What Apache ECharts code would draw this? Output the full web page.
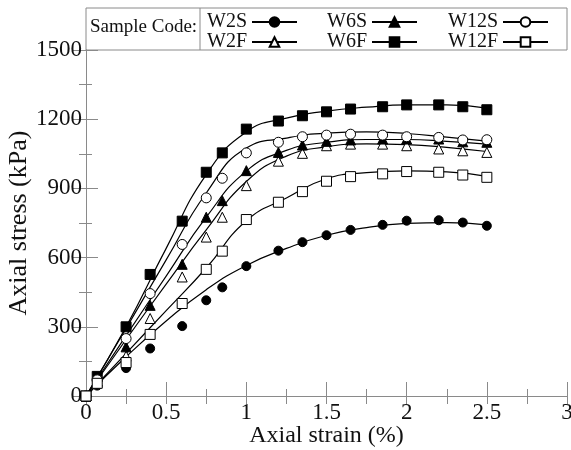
<!DOCTYPE html>
<html><head><meta charset="utf-8">
<script src="https://cdn.jsdelivr.net/npm/echarts@6/dist/echarts.min.js"></script>
<style>html,body{margin:0;padding:0;background:#fff}#c{width:571px;height:450px}</style>
</head><body><div id="c"></div>
<script>
// Measured points
const strainPts = [0, 0.07, 0.25, 0.4, 0.6, 0.75, 0.85, 1.0, 1.2, 1.35, 1.5, 1.65, 1.85, 2.0, 2.2, 2.35, 2.5];
const W2S  = [0, 45, 121, 206, 303, 415, 471, 563, 630, 667, 697, 720, 742, 760, 762, 752, 738];
const W2F  = [0, 60, 173, 336, 516, 689, 775, 912, 1018, 1052, 1085, 1092, 1092, 1085, 1071, 1063, 1056];
const W6S  = [0, 65, 213, 393, 571, 775, 847, 977, 1056, 1088, 1104, 1110, 1114, 1114, 1114, 1102, 1100];
const W6F  = [0, 85, 300, 527, 758, 970, 1054, 1157, 1192, 1215, 1232, 1244, 1254, 1262, 1262, 1254, 1241];
const W12S = [0, 70, 249, 444, 657, 859, 944, 1054, 1100, 1124, 1131, 1135, 1131, 1124, 1121, 1110, 1111];
const W12F = [0, 55, 145, 267, 401, 549, 628, 765, 840, 886, 931, 951, 963, 973, 970, 958, 948];
// Fitted curves
const strainFit = [0, 0.25, 0.5, 0.75, 1.0, 1.25, 1.5, 1.75, 2.0, 2.25, 2.5];
const fitW2S  = [0, 170, 325, 461, 566, 640, 697, 730, 748, 752, 742];
const fitW2F  = [0, 245, 485, 720, 930, 1040, 1080, 1093, 1090, 1078, 1060];
const fitW6S  = [0, 262, 520, 775, 975, 1065, 1100, 1112, 1112, 1104, 1092];
const fitW6F  = [0, 300, 640, 960, 1145, 1205, 1235, 1252, 1262, 1262, 1248];
const fitW12S = [0, 293, 590, 880, 1075, 1118, 1140, 1145, 1138, 1122, 1105];
const fitW12F = [0, 185, 370, 555, 760, 858, 942, 968, 976, 972, 952];
const xTicks = [0, 0.5, 1, 1.5, 2, 2.5, 3];
const yTicks = [0, 300, 600, 900, 1200, 1500];

const FONT = 'Liberation Serif';
const AX = '#8a8a8a';

const samples = [
  {name:'W2S',  pts:W2S,  fit:fitW2S,  symbol:'circle',   size:9,  fill:'#000'},
  {name:'W2F',  pts:W2F,  fit:fitW2F,  symbol:'triangle', size:10, fill:'#fff'},
  {name:'W6S',  pts:W6S,  fit:fitW6S,  symbol:'triangle', size:10, fill:'#000'},
  {name:'W6F',  pts:W6F,  fit:fitW6F,  symbol:'rect',     size:10, fill:'#000'},
  {name:'W12S', pts:W12S, fit:fitW12S, symbol:'circle',   size:10, fill:'#fff'},
  {name:'W12F', pts:W12F, fit:fitW12F, symbol:'rect',     size:10, fill:'#fff'}
];
const legendPos = {
  W2S:[207,12], W6S:[327,12], W12S:[448,12],
  W2F:[207,32], W6F:[327,32], W12F:[448,32]
};

const series = [];
samples.forEach(s => {
  series.push({
    name: s.name, type:'line', smooth:0.5, showSymbol:false, symbol:s.symbol,
    symbolSize:s.size, silent:true, z:2,
    data: strainFit.map((x,i)=>[x, s.fit[i]]),
    lineStyle:{color:'#000', width:1.2},
    itemStyle:{color:s.fill, borderColor:'#000', borderWidth:1}
  });
});
samples.forEach(s => {
  series.push({
    name: s.name, type:'scatter', symbol:s.symbol, symbolSize:s.size, z:3,
    data: strainPts.map((x,i)=>[x, s.pts[i]]),
    itemStyle:{color:s.fill, borderColor:'#000', borderWidth:1, opacity:1}
  });
});

const legends = samples.map(s => ({
  data:[s.name], left:legendPos[s.name][0], top:legendPos[s.name][1],
  align:'right', padding:0, itemWidth:45, itemHeight:12, itemGap:0,
  selectedMode:false,
  textStyle:{fontFamily:FONT, fontSize:20, color:'#111', padding:[0,0,0,0]}
}));

const chart = echarts.init(document.getElementById('c'));
chart.setOption({
  animation:false,
  backgroundColor:'#fff',
  grid:{left:86, right:4, top:50, bottom:54, containLabel:false, outerBoundsMode:'none'},
  legend: legends,
  graphic:[
    {type:'rect', shape:{x:86, y:8, width:481, height:42}, style:{fill:'none', stroke:AX, lineWidth:1}, z:1},
    {type:'line', shape:{x1:200, y1:8, x2:200, y2:50}, style:{stroke:AX, lineWidth:1}, z:1},
    {type:'text', left:90, top:18, style:{text:'Sample Code:', font:'19px "Liberation Serif"', fill:'#111'}}
  ],
  xAxis:[{
    type:'value', min:xTicks[0], max:xTicks[xTicks.length-1], interval:0.5,
    name:'Axial strain (%)', nameLocation:'middle', nameGap:28, nameMoveOverlap:false,
    nameTextStyle:{fontFamily:FONT, fontSize:24, color:'#111'},
    axisLine:{show:true, lineStyle:{color:AX}},
    axisTick:{show:true, inside:true, length:14, lineStyle:{color:AX}},
    minorTick:{show:true, splitNumber:2, length:7, lineStyle:{color:AX}},
    axisLabel:{fontFamily:FONT, fontSize:23, color:'#111', margin:5, formatter:v=>String(v)},
    splitLine:{show:false}
  },{
    type:'value', position:'top', min:0, max:3, interval:0.5,
    axisLine:{show:true, lineStyle:{color:AX}},
    axisTick:{show:true, inside:true, length:8, lineStyle:{color:AX}},
    minorTick:{show:true, splitNumber:2, length:8, lineStyle:{color:AX}},
    axisLabel:{show:false}, splitLine:{show:false}
  }],
  yAxis:[{
    type:'value', min:yTicks[0], max:yTicks[yTicks.length-1], interval:300,
    name:'Axial stress (kPa)', nameLocation:'middle', nameGap:54, nameMoveOverlap:false,
    nameTextStyle:{fontFamily:FONT, fontSize:26, color:'#111'},
    axisLine:{show:true, lineStyle:{color:AX}},
    axisTick:{show:true, inside:true, length:12, lineStyle:{color:AX}},
    minorTick:{show:true, splitNumber:2, length:6, lineStyle:{color:AX}},
    axisLabel:{fontFamily:FONT, fontSize:23, color:'#111', margin:4, formatter:v=>String(v)},
    splitLine:{show:false}
  },{
    type:'value', position:'right', min:0, max:1500, interval:300,
    axisLine:{show:true, lineStyle:{color:AX}},
    axisTick:{show:true, inside:true, length:13, lineStyle:{color:AX}},
    minorTick:{show:true, splitNumber:2, length:7, lineStyle:{color:AX}},
    axisLabel:{show:false}, splitLine:{show:false}
  }],
  series: series
});
</script></body></html>
